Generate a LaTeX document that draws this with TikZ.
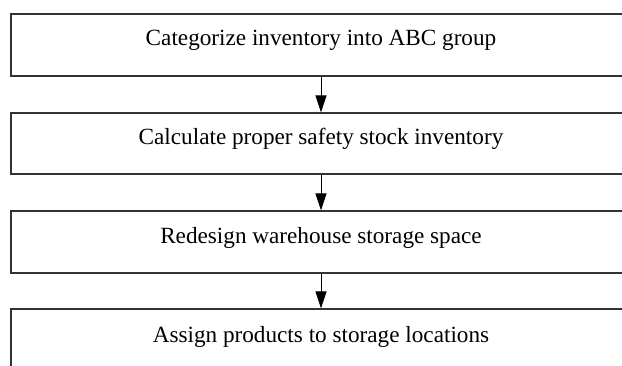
\documentclass[tikz,border=0pt]{standalone}
\usepackage{fontspec}
\setmainfont{Liberation Serif}
\usetikzlibrary{arrows.meta,calc}
\begin{document}
\begin{tikzpicture}[x=1pt,y=1pt,
  stepbox/.style={draw=black!80, line width=1.3pt, rectangle, minimum width=620pt, minimum height=62pt, inner sep=0pt},
  steptext/.style={anchor=base, inner sep=0pt, font=\fontsize{23.2}{27}\selectfont},
  flow/.style={draw=black, line width=1pt, -{Triangle[length=17pt,width=11pt]}}]
\useasboundingbox (0,0) rectangle (622,365);
\clip (0,0) rectangle (622,365);
\fill[white] (0,0) rectangle (622,365);
\node[stepbox] (b1) at (321,320) {};
\node[stepbox, minimum height=61pt] (b2) at (321,221.5) {};
\node[stepbox] (b3) at (321,123) {};
\node[stepbox] (b4) at (321,25) {};
\node[steptext] (t1) at ($(b1.center)+(0,-1)$) {Categorize inventory into ABC group};
\node[steptext] (t2) at ($(b2.center)+(0,-1)$) {Calculate proper safety stock inventory};
\node[steptext] (t3) at ($(b3.center)+(0,-1)$) {Redesign warehouse storage space};
\node[steptext] (t4) at ($(b4.center)+(0,-2)$) {Assign products to storage locations};
\draw[flow] (b1.south) -- (b2.north);
\draw[flow] (b2.south) -- (b3.north);
\draw[flow] (b3.south) -- (b4.north);
\end{tikzpicture}
\end{document}
